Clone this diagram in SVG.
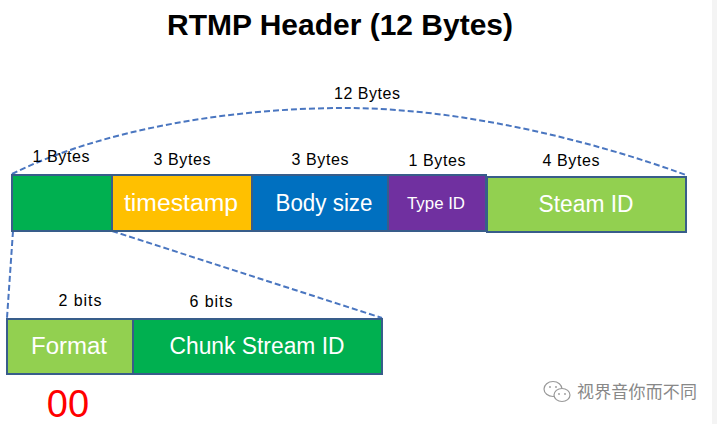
<svg xmlns="http://www.w3.org/2000/svg" width="717" height="424" viewBox="0 0 717 424">
<style>
.box{stroke:#385D8A;stroke-width:2}
.lbl{font-family:"Liberation Sans",Arial,sans-serif;font-size:16px;fill:#000;text-anchor:middle}
.in{font-family:"Liberation Sans",Arial,sans-serif;font-size:23px;fill:#fff;text-anchor:middle}
.dash{fill:none;stroke:#4A76C0;stroke-width:2;stroke-dasharray:6 3}
</style>
<rect x="0" y="0" width="717" height="424" fill="#fff"/>
<rect x="712" y="0" width="5" height="424" fill="#f4f4f4"/>
<text x="340" y="35" text-anchor="middle" font-family="'Liberation Sans',Arial,sans-serif" font-weight="bold" font-size="30" textLength="346" lengthAdjust="spacingAndGlyphs">RTMP Header (12 Bytes)</text>
<g id="connectors">
<path class="dash" d="M12,174 C100,130 230,108 345,108 C460,108 590,140 686,175"/>
<path class="dash" d="M13,231 L7,318"/>
<path class="dash" d="M112,231 L382,318"/>
</g>
<text class="lbl" x="367" y="99" textLength="66">12 Bytes</text>
<g id="byte1"><rect class="box" x="12" y="175" width="100" height="56" fill="#00B050"/><text class="lbl" x="61" y="162" textLength="57">1 Bytes</text></g>
<g id="timestamp"><rect class="box" x="112" y="175" width="140" height="56" fill="#FFC000"/><text class="lbl" x="182" y="165" textLength="57">3 Bytes</text><text class="in" x="181" y="211" textLength="114" lengthAdjust="spacingAndGlyphs">timestamp</text></g>
<g id="bodysize"><rect class="box" x="252" y="175" width="136" height="56" fill="#0070C0"/><text class="lbl" x="320" y="165" textLength="57">3 Bytes</text><text class="in" x="324" y="211" textLength="97" lengthAdjust="spacingAndGlyphs">Body size</text></g>
<g id="typeid"><rect class="box" x="388" y="175" width="98" height="56" fill="#7030A0"/><text class="lbl" x="437" y="166" textLength="57">1 Bytes</text><text class="in" x="436" y="209" style="font-size:16px" textLength="58" lengthAdjust="spacingAndGlyphs">Type ID</text></g>
<g id="steamid"><rect class="box" x="487" y="177" width="199" height="55" fill="#92D050"/><text class="lbl" x="571" y="166" textLength="57">4 Bytes</text><text class="in" x="586" y="212" textLength="95" lengthAdjust="spacingAndGlyphs">Steam ID</text></g>
<g id="format"><rect class="box" x="7" y="319" width="126" height="55" fill="#92D050"/><text class="lbl" x="80" y="306" textLength="43">2 bits</text><text class="in" x="69" y="354" textLength="76" lengthAdjust="spacingAndGlyphs">Format</text></g>
<g id="chunk"><rect class="box" x="133" y="319" width="249" height="55" fill="#00B050"/><text class="lbl" x="211" y="307" textLength="43">6 bits</text><text class="in" x="257" y="354" textLength="175" lengthAdjust="spacingAndGlyphs">Chunk Stream ID</text></g>
<text x="68" y="417" text-anchor="middle" font-family="'Liberation Sans',Arial,sans-serif" font-size="38" fill="#FF0000">00</text>
<g id="watermark" fill="none" stroke="#999" stroke-width="1.2">
<ellipse cx="553" cy="389" rx="9" ry="7.5"/>
<ellipse cx="562" cy="395" rx="8" ry="6.5" fill="#fff"/>
<circle cx="559" cy="394" r="0.9" fill="#999" stroke="none"/>
<circle cx="565" cy="394" r="0.9" fill="#999" stroke="none"/>
<circle cx="550" cy="387" r="0.9" fill="#999" stroke="none"/>
<circle cx="556" cy="387" r="0.9" fill="#999" stroke="none"/>
<text x="577" y="398" font-family="'Noto Sans CJK SC',sans-serif" font-size="17" fill="#888" stroke="none" textLength="120">视界音你而不同</text>
</g>
</svg>
